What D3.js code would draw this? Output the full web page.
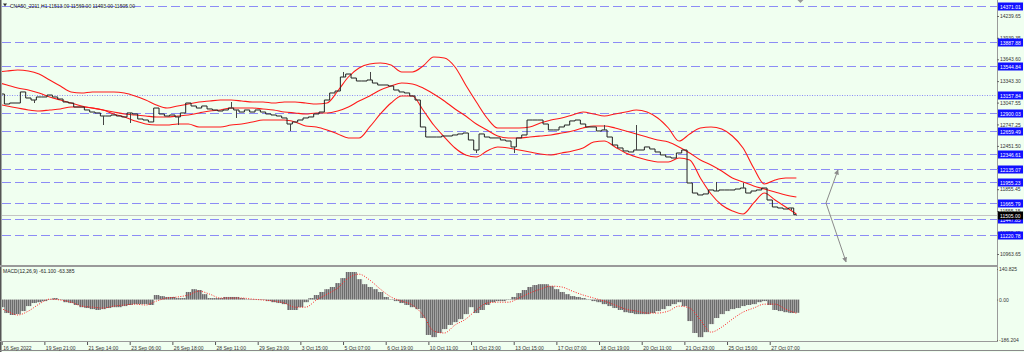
<!DOCTYPE html>
<html><head><meta charset="utf-8">
<script src="https://cdn.jsdelivr.net/npm/d3@7"></script>
<style>
html,body{margin:0;padding:0;background:#f0fff0;}
svg{display:block;}
text{font-family:"Liberation Sans",Arial,sans-serif;}
</style></head><body>
<svg id="c" width="1024" height="352"></svg>
<script>
// ---------------- data ----------------
const titleText = "CNA50_2211,H1  11513.00 11569.00 11493.00 11505.00";
const macdTitle = "MACD(12,26,9) -61.100 -63.385";
const timeLabels = ["16 Sep 2022","19 Sep 21:00","21 Sep 14:00","23 Sep 06:00","26 Sep 18:00","28 Sep 11:00","29 Sep 23:00","3 Oct 15:00","5 Oct 07:00","6 Oct 19:00","10 Oct 11:00","11 Oct 23:00","13 Oct 15:00","17 Oct 07:00","18 Oct 19:00","20 Oct 11:00","21 Oct 23:00","25 Oct 15:00","27 Oct 07:00"];
const priceTicks = [14239.65,13939.35,13643.60,13343.30,13047.55,12747.25,12451.50,12151.20,11855.45,11555.15,11259.45,10963.65];
const levels = [14371.01,13887.88,13544.84,13157.84,12900.03,12659.49,12346.61,12135.07,11955.23,11665.79,11447.85,11220.78];
const dottedLevel = 13157.84;
const lastPrice = 11505.00;
const macdTicks = [140.825, 0, -186.204];
const macdTickLabels = ["140.825","0.00","-186.204"];

// closes sampled every 1/8 of a time-label interval
const closeStep = 0.125;
const closes = [13166,13028,13042,13042,13194,13111,13083,13125,13125,13152,
 13125,13097,13056,13042,12987,12987,12946,12918,12905,12863,
 12863,12877,12863,12850,12905,12891,12822,12808,12781,12973,
 12891,12863,12877,12850,12905,13042,13001,12973,13001,12960,
 12946,12932,12946,12973,12946,12918,12946,12918,12946,12918,
 12891,12877,12863,12836,12753,12781,12808,12836,12850,12891,
 12918,13083,13180,13207,13400,13441,13386,13345,13345,13359,
 13317,13290,13290,13276,13221,13194,13180,13139,13083,12712,
 12574,12574,12574,12588,12588,12602,12616,12629,12533,12395,
 12616,12574,12561,12561,12533,12519,12437,12561,12602,12808,
 12808,12808,12753,12671,12671,12712,12739,12795,12808,12753,
 12712,12712,12657,12671,12574,12464,12423,12382,12368,12395,
 12395,12437,12409,12368,12327,12299,12285,12354,12395,11941,
 11803,11776,11790,11845,11831,11845,11845,11845,11858,11872,
 11803,11831,11845,11872,11707,11611,11597,11583,11597,11505];
// wick extremes: [sample index, price]
const spikes = [[6,13042],[19,12739],[24,12767],[33,12739],[43,13056],[44,12836],[54,12657],[64,13469],[69,13469],[89,12354],[96,12354],[113,12739],[119,12739],[134,11955],[139,11941],[148,11569],[149,11493]];

// Bollinger bands sampled every 1/4 interval starting at -1/8
const bandStart = -0.125, bandStep = 0.25;
const upper = [13469,13483,13496,13483,13441,13359,13276,13194,13180,13194,
 13194,13194,13180,13139,13083,13015,12973,13001,13028,13056,
 13070,13083,13083,13070,13056,13056,13042,13056,13056,13042,
 13028,13042,13207,13400,13524,13579,13593,13565,13469,13469,
 13551,13675,13662,13538,13290,13056,12836,12698,12698,12698,
 12712,12767,12808,12836,12877,12918,12891,12863,12891,12918,
 12946,12918,12836,12698,12519,12616,12698,12712,12684,12588,
 12423,12147,11927,11982,12010,12010];
const middle = [13331,13290,13249,13221,13180,13125,13083,13042,13001,12973,
 12946,12918,12891,12877,12863,12850,12850,12863,12877,12905,
 12932,12946,12973,12973,12973,12960,12946,12918,12905,12891,
 12905,12905,12932,12987,13070,13139,13221,13276,13317,13304,
 13249,13166,13070,12960,12863,12753,12671,12588,12561,12561,
 12574,12588,12602,12629,12657,12698,12726,12726,12698,12657,
 12616,12574,12533,12505,12437,12354,12258,12189,12106,12010,
 11955,11900,11858,11817,11776,11748];
const lower = [13028,13001,12973,12946,12932,12946,12960,12987,12987,12973,
 12946,12891,12850,12795,12753,12739,12739,12753,12753,12712,
 12712,12712,12739,12753,12781,12808,12808,12808,12781,12726,
 12712,12671,12616,12561,12561,12712,12891,13042,13139,13139,
 12946,12739,12574,12423,12327,12299,12382,12437,12423,12395,
 12368,12340,12327,12354,12382,12423,12505,12519,12437,12354,
 12299,12258,12230,12230,12285,12258,12010,11790,11638,11556,
 11514,11666,11803,11707,11611,11514];

// MACD main (histogram), same grid as closes
const macd = [-35,-62,-71,-67,-53,-30,-16,-12,-7,2,
 7,-2,-12,-16,-25,-35,-39,-44,-48,-44,
 -39,-35,-35,-30,-25,-21,-21,-21,-25,21,
 16,12,12,7,7,35,48,44,25,7,
 7,7,12,12,12,7,-2,-2,-2,-2,
 -7,-12,-16,-21,-48,-48,-35,-12,7,21,
 35,48,58,76,99,127,127,94,71,58,
 48,35,12,2,-7,-16,-25,-35,-44,-85,
 -163,-173,-154,-136,-117,-104,-90,-67,-35,-62,
 -48,-25,-12,-7,-7,-2,12,30,44,58,
 67,71,71,62,48,35,25,16,12,7,
 -2,-7,-12,-21,-30,-39,-48,-58,-62,-67,
 -67,-67,-62,-53,-44,-30,-21,-12,-30,-99,
 -154,-173,-150,-113,-85,-67,-53,-44,-39,-30,
 -25,-21,-12,-7,-25,-48,-53,-58,-62,-61];
// MACD signal, same grid as bands
const signal = [-30,-53,-71,-53,-21,2,-2,-12,-30,-35,
 -39,-30,-25,-21,-25,-7,7,12,21,39,
 25,7,7,7,2,-2,-7,-16,-35,-35,
 -2,25,53,99,117,90,48,12,-7,-25,
 -71,-145,-154,-117,-90,-48,-16,-12,-12,7,
 30,48,62,58,39,21,7,-7,-25,-44,
 -53,-62,-62,-53,-30,-39,-94,-150,-127,-90,
 -58,-39,-21,-21,-44,-63];

// forecast arrows: [time, price]
const fcStart = [19.32, 11666];
const fcUp = [19.60, 12120];
const fcDown = [19.79, 10854];

// ---------------- drawing ----------------
const svg = d3.select("#c");
const W = 1024, H = 352;
const plotL = 2, plotR = 997, mainBot = 265, macdTop = 267, macdBot = 341;

const x = d3.scaleLinear().domain([0, 18]).range([1.7, 1.7 + 42.667 * 18]);
const y = d3.scaleLinear().domain([10963.65, 14239.65]).range([254, 16]);
const ym = d3.scaleLinear().domain([-186.204, 140.825]).range([340, 269]);

const defs = svg.append("defs");
defs.append("clipPath").attr("id", "clipMain").append("rect")
  .attr("x", plotL).attr("y", 0).attr("width", plotR - plotL).attr("height", mainBot);
defs.append("clipPath").attr("id", "clipMacd").append("rect")
  .attr("x", plotL).attr("y", macdTop).attr("width", plotR - plotL).attr("height", macdBot - macdTop);
const pat = defs.append("pattern").attr("id", "stripes").attr("patternUnits", "userSpaceOnUse")
  .attr("width", 2).attr("height", 10);
pat.append("rect").attr("width", 2).attr("height", 10).attr("fill", "#a2a2a2");
pat.append("rect").attr("width", 1).attr("height", 10).attr("fill", "#6c6c6c");
defs.append("marker").attr("id", "arr").attr("viewBox", "0 0 10 10")
  .attr("refX", 9).attr("refY", 5).attr("markerWidth", 5).attr("markerHeight", 5)
  .attr("orient", "auto").append("path").attr("d", "M0,0L10,5L0,10z").attr("fill", "#8a8a8a");

svg.append("rect").attr("width", W).attr("height", H).attr("fill", "#f0fff0");

const main = svg.append("g").attr("clip-path", "url(#clipMain)");

// level lines
main.selectAll("line.lvl").data(levels).join("line").attr("class", "lvl")
  .attr("x1", plotL).attr("x2", plotR)
  .attr("y1", d => Math.round(y(d)) + 0.5).attr("y2", d => Math.round(y(d)) + 0.5)
  .attr("stroke", "#8c8cf5").attr("stroke-width", 1)
  .attr("stroke-dasharray", d => d === dottedLevel ? "1,1.5" : "9,4");

// bid line
main.append("line").attr("x1", plotL).attr("x2", plotR)
  .attr("y1", Math.round(y(lastPrice)) + 0.5).attr("y2", Math.round(y(lastPrice)) + 0.5)
  .attr("stroke", "#c4c4c4").attr("stroke-width", 1);

// bands
const bandLine = d3.line().x((d, i) => x(bandStart + i * bandStep)).y(d => y(d)).curve(d3.curveMonotoneX);
[upper, middle, lower].forEach(arr => {
  main.append("path").datum(arr).attr("d", bandLine).attr("fill", "none")
    .attr("stroke", "#ff1a1a").attr("stroke-width", 1.1);
});

// price
const priceLine = d3.line().x((d, i) => x(i * closeStep)).y(d => y(d)).curve(d3.curveStep);
main.append("path").datum(closes).attr("d", priceLine).attr("fill", "none")
  .attr("stroke", "#222").attr("stroke-width", 1);
main.selectAll("line.wick").data(spikes).join("line").attr("class", "wick")
  .attr("x1", d => Math.round(x(d[0] * closeStep)) + 0.5).attr("x2", d => Math.round(x(d[0] * closeStep)) + 0.5)
  .attr("y1", d => y(closes[d[0]])).attr("y2", d => y(d[1]))
  .attr("stroke", "#444").attr("stroke-width", 1);

// forecast arrows
[fcUp, fcDown].forEach(e => {
  main.append("line").attr("x1", x(fcStart[0])).attr("y1", y(fcStart[1]))
    .attr("x2", x(e[0])).attr("y2", y(e[1]))
    .attr("stroke", "#8a8a8a").attr("stroke-width", 1).attr("marker-end", "url(#arr)");
});

// title
svg.append("path").attr("d", "M3,3.5L7,3.5L5,6.5z").attr("fill", "#333");
svg.append("text").attr("x", 10).attr("y", 7.5).attr("font-size", 5).attr("fill", "#222").text(titleText);

// MACD
const mg = svg.append("g").attr("clip-path", "url(#clipMacd)");
const bw = x(closeStep) - x(0);
mg.selectAll("rect.h").data(macd).join("rect").attr("class", "h")
  .attr("x", (d, i) => x(i * closeStep) - bw / 2)
  .attr("width", bw + 0.4)
  .attr("y", d => Math.min(ym(0), ym(d)))
  .attr("height", d => Math.abs(ym(d) - ym(0)))
  .attr("fill", "url(#stripes)");
const sigLine = d3.line().x((d, i) => x(bandStart + i * bandStep)).y(d => ym(d)).curve(d3.curveMonotoneX);
mg.append("path").datum(signal).attr("d", sigLine).attr("fill", "none")
  .attr("stroke", "#ff2020").attr("stroke-width", 1).attr("stroke-dasharray", "1,1.5");
svg.append("text").attr("x", 3).attr("y", 273).attr("font-size", 5).attr("fill", "#222").text(macdTitle);

// frames
svg.append("rect").attr("x", 0).attr("y", 0).attr("width", 1.5).attr("height", H).attr("fill", "#555");
svg.append("line").attr("x1", plotR + 0.5).attr("x2", plotR + 0.5).attr("y1", 0).attr("y2", macdBot + 1)
  .attr("stroke", "#9a9a9a");
svg.append("line").attr("x1", 0).attr("x2", plotR).attr("y1", mainBot + 1).attr("y2", mainBot + 1)
  .attr("stroke", "#9a9a9a").attr("stroke-width", 2);
svg.append("line").attr("x1", 0).attr("x2", plotR + 1).attr("y1", macdBot + 0.5).attr("y2", macdBot + 0.5)
  .attr("stroke", "#9a9a9a");
svg.append("line").attr("x1", 0).attr("x2", W).attr("y1", H - 1.5).attr("y2", H - 1.5)
  .attr("stroke", "#8a8a8a");

// right price axis
const ra = svg.append("g").attr("transform", `translate(${plotR},0)`)
  .call(d3.axisRight(y).tickValues(priceTicks).tickFormat(d3.format(".2f")).tickSize(2).tickPadding(1));
ra.select(".domain").remove();
ra.selectAll("line").attr("stroke", "#666");
ra.selectAll("text").attr("font-size", 5).attr("fill", "#333").attr("font-family", "Liberation Sans, Arial, sans-serif");

// level labels
const lv = svg.append("g");
levels.forEach(v => {
  const yy = Math.round(y(v));
  lv.append("rect").attr("x", plotR + 1).attr("y", yy - 3.5).attr("width", 25).attr("height", 8).attr("fill", "#1010ff");
  lv.append("text").attr("x", plotR + 3).attr("y", yy + 0.5).attr("dominant-baseline", "central")
    .attr("font-size", 5).attr("fill", "#fff").text(d3.format(".2f")(v));
});
{
  const yy = Math.round(y(lastPrice));
  lv.append("rect").attr("x", plotR + 1).attr("y", yy - 3.5).attr("width", 25).attr("height", 8).attr("fill", "#000");
  lv.append("text").attr("x", plotR + 3).attr("y", yy + 0.5).attr("dominant-baseline", "central")
    .attr("font-size", 5).attr("fill", "#fff").text(d3.format(".2f")(lastPrice));
}

// MACD axis
const ma = svg.append("g").attr("transform", `translate(${plotR},0)`)
  .call(d3.axisRight(ym).tickValues(macdTicks).tickFormat((d, i) => macdTickLabels[i]).tickSize(1).tickPadding(1));
ma.select(".domain").remove();
ma.selectAll("line").attr("stroke", "#666");
ma.selectAll("text").attr("font-size", 5).attr("fill", "#333").attr("font-family", "Liberation Sans, Arial, sans-serif");

// time axis
const ta = svg.append("g").attr("transform", `translate(0,${macdBot + 1})`)
  .call(d3.axisBottom(x).tickValues(d3.range(timeLabels.length)).tickFormat((d, i) => timeLabels[i]).tickSize(3).tickPadding(1));
ta.select(".domain").remove();
ta.selectAll("line").attr("stroke", "#555");
ta.selectAll("text").attr("font-size", 5).attr("fill", "#333").attr("text-anchor", "start")
  .attr("dx", 1).attr("font-family", "Liberation Sans, Arial, sans-serif");

// shift marker
svg.append("path").attr("d", `M${x(18.72) - 3},0L${x(18.72) + 3},0L${x(18.72)},3z`).attr("fill", "#999");
</script>
</body></html>
